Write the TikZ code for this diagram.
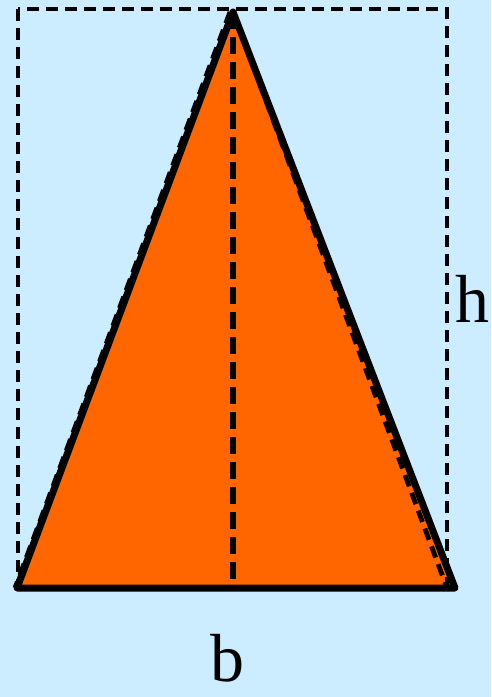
\documentclass[tikz,border=0pt]{standalone}
\usepackage{fontspec}
\setmainfont{Liberation Serif}
\usetikzlibrary{positioning}
\definecolor{cSky}{RGB}{204, 236, 255}
\definecolor{cOrange}{RGB}{255, 102, 0}
\definecolor{tDark}{RGB}{0, 0, 0}

\begin{document}
\begin{tikzpicture}[
    x=1pt, y=-1pt,
    guide/.style={draw=tDark, line width=4.8pt, dash pattern=on 12pt off 7pt},
    axisdash/.style={draw=tDark, line width=6pt, dash pattern=on 17pt off 8pt},
    outline/.style={draw=tDark, line width=7pt, line join=round, line cap=round},
    letter/.style={font=\fontsize{68}{68}\selectfont, text=tDark, inner sep=0pt, anchor=base}
]

% background and fixed size
\fill[cSky] (0, 0) rectangle (491, 697);
\useasboundingbox (0, 0) rectangle (491, 697);

\coordinate (apex) at (233, 12);
\coordinate (bl) at (17, 588);
\coordinate (br) at (455, 588);
\coordinate (foot) at (233, 588);
\coordinate (boxtl) at (18, 9);
\coordinate (boxbr) at (447, 588);

% orange triangle
\fill[cOrange] (apex) -- (bl) -- (br) -- cycle;

% bounding box and helper lines
\draw[guide] (boxtl) rectangle (boxbr);
\draw[guide] (apex) -- (boxbr);
\draw[guide] ([xshift=-3pt]apex) -- ([xshift=-3pt]boxtl |- boxbr);
\draw[axisdash] (apex) -- (foot);

\draw[outline] (apex) -- (bl) -- (br) -- cycle;

\node[letter] (h) at (472, 322) {h};
\node[letter] (b) at (227, 681) {b};

\end{tikzpicture}
\end{document}
